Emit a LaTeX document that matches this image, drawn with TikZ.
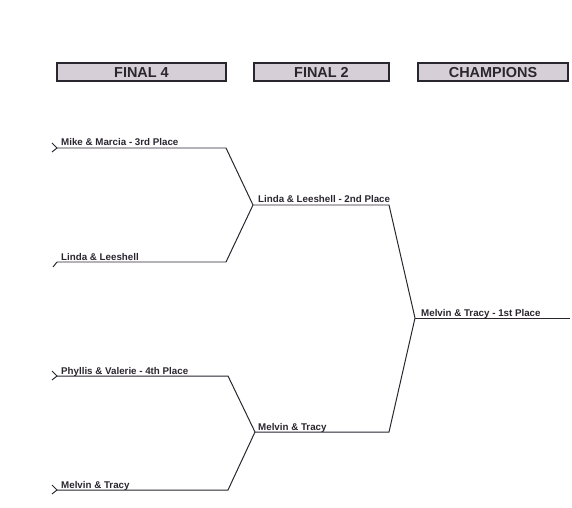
\documentclass[tikz,border=0pt]{standalone}
\usepackage{fontspec}
\setmainfont{Liberation Sans}
\usetikzlibrary{arrows.meta,positioning}

\definecolor{ink}{HTML}{2A2630}
\definecolor{boxfill}{HTML}{D6CFD8}

\begin{document}
\begin{tikzpicture}[
            x=1bp, y=-1bp,
            head/.style={draw=ink, line width=1.4pt, fill=boxfill, minimum height=18bp,
                         text height=10.4bp, text depth=0pt,
                         inner sep=0pt, font=\bfseries\fontsize{14.5}{15}\selectfont, text=ink},
            team/.style={anchor=base west, inner sep=0pt, font=\bfseries\fontsize{9.8}{11}\selectfont, text=ink},
            line/.style={draw=ink, line width=1pt}
        ]
        \useasboundingbox (0,0) rectangle (572,508);

        \node[head, minimum width=169bp] (f4) at (141.5,72) {FINAL 4};
        \node[head, minimum width=135bp] (f2) at (321.5,72) {FINAL 2};
        \node[head, minimum width=150bp] (ch) at (493,72) {CHAMPIONS};

        % bracket points
        \coordinate (a) at (57,148);  \coordinate (ae) at (226,148);
        \coordinate (b) at (57,262);  \coordinate (be) at (226,262);
        \coordinate (c) at (57,376);  \coordinate (ce) at (228,376);
        \coordinate (d) at (57,490);  \coordinate (de) at (228,490);
        \coordinate (ab) at (253,205); \coordinate (abe) at (389,205);
        \coordinate (cd) at (255,432); \coordinate (cde) at (389,432);
        \coordinate (win) at (415,318); \coordinate (wine) at (570,318);

        \node[team] (mm) at (61,146) {Mike \& Marcia - 3rd Place};
        \node[team] (ll) at (61,260) {Linda \& Leeshell};
        \node[team] (pv) at (61,374) {Phyllis \& Valerie - 4th Place};
        \node[team] (mt) at (61,488) {Melvin \& Tracy};
        \node[team] (ll2) at (258,203) {Linda \& Leeshell - 2nd Place};
        \node[team] (mt2) at (258,430) {Melvin \& Tracy};
        \node[team] (mt1) at (421,316) {Melvin \& Tracy - 1st Place};

        \draw[line] (a) -- (ae) -- (ab);
        \draw[line] (b) -- (be) -- (ab);
        \draw[line] (c) -- (ce) -- (cd);
        \draw[line] (d) -- (de) -- (cd);
        \draw[line] (ab) -- (abe) -- (win);
        \draw[line] (cd) -- (cde) -- (win);
        \draw[line] (win) -- (wine);

        % small marks at the left ends
        \draw[line] ([shift={(-5,-5)}]a) -- (a) -- ([shift={(-5,4)}]a);
        \draw[line] ([shift={(-4,5)}]b) -- (b);
        \draw[line] ([shift={(-5,-5)}]c) -- (c) -- ([shift={(-5,4)}]c);
        \draw[line] ([shift={(-5,-5)}]d) -- (d) -- ([shift={(-5,4)}]d);
    \end{tikzpicture}
\end{document}
